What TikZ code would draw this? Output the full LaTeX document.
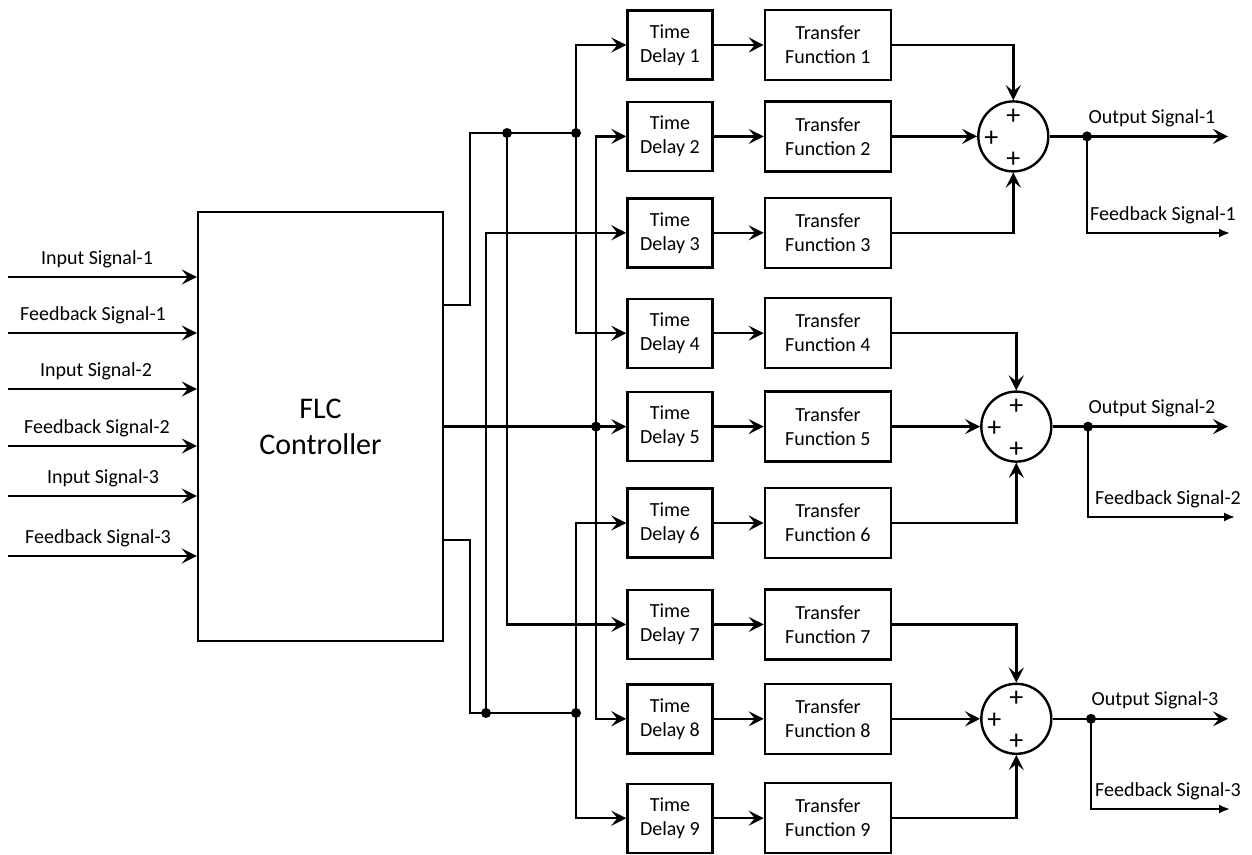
\documentclass[tikz,border=0pt]{standalone}
\usepackage{fontspec}
\setmainfont{Carlito}
\usepackage{tikz}
\usetikzlibrary{positioning, calc, arrows.meta}

\begin{document}
\begin{tikzpicture}[x=1pt, y=-1pt,
    font=\fontsize{20}{24}\selectfont,
    delay/.style={draw, line width=2.4pt, minimum width=85pt, minimum height=69pt, align=center, inner sep=2pt},
    transfer/.style={draw, line width=2.4pt, minimum width=126pt, minimum height=70pt, align=center, inner sep=2pt},
    summer/.style={draw, circle, line width=2.4pt, minimum size=70pt, inner sep=0pt},
    wire/.style={line width=2.4pt, -{Stealth[length=15pt,width=15pt,inset=6pt]}},
    bus/.style={line width=2.4pt},
    fb/.style={line width=2pt, -{Latex[length=11pt,width=9pt]}},
    dot/.style={circle, fill=black, inner sep=0pt, minimum size=10pt},
    lbl/.style={anchor=base, inner sep=0pt},
    plus/.style={inner sep=0pt, font=\fontsize{28}{28}\selectfont}]
    \useasboundingbox (0,0) rectangle (1252,854);

    % Controller
        \node[draw,
              line width=2.4pt,
              minimum width=245pt,
              minimum height=429pt,
              align=center,
              font=\fontsize{30}{36}\selectfont
              ] (flc) at (320.5,426.5) {FLC\\Controller};

    % Time delays
        \node[delay] (td1) at (670,45) {Time\\Delay 1};
		\node[delay,
			below=20pt of td1
			] (td2) {Time\\Delay 2};
		\node[delay,
			below=25pt of td2
			] (td3) {Time\\Delay 3};
		\node[delay,
			below=29pt of td3
			] (td4) {Time\\Delay 4};
		\node[delay,
			below=22pt of td4
			] (td5) {Time\\Delay 5};
		\node[delay,
			below=25pt of td5
			] (td6) {Time\\Delay 6};
		\node[delay,
			below=30pt of td6
			] (td7) {Time\\Delay 7};
		\node[delay,
			below=23pt of td7
			] (td8) {Time\\Delay 8};
		\node[delay,
			below=28pt of td8
			] (td9) {Time\\Delay 9};

    % Transfer functions
		\node[transfer, right=50pt of td1] (tf1) {Transfer\\Function 1};
		\node[transfer, right=50pt of td2] (tf2) {Transfer\\Function 2};
		\node[transfer, right=50pt of td3] (tf3) {Transfer\\Function 3};
		\node[transfer, right=50pt of td4] (tf4) {Transfer\\Function 4};
		\node[transfer, right=50pt of td5] (tf5) {Transfer\\Function 5};
		\node[transfer, right=50pt of td6] (tf6) {Transfer\\Function 6};
		\node[transfer, right=50pt of td7] (tf7) {Transfer\\Function 7};
		\node[transfer, right=50pt of td8] (tf8) {Transfer\\Function 8};
		\node[transfer, right=50pt of td9] (tf9) {Transfer\\Function 9};

    % Summing points
		\node[summer, right=85pt of tf2] (s1) {};
		\node[summer, right=88pt of tf5] (s2) {};
		\node[summer, right=88pt of tf8] (s3) {};
		\node[plus] (p1a) at ($(s1)+(0,-20)$) {+};
		\node[plus] (p1b) at ($(s1)+(-22,2)$) {+};
		\node[plus] (p1c) at ($(s1)+(0,23)$) {+};
		\node[plus] (p2a) at ($(s2)+(0,-20)$) {+};
		\node[plus] (p2b) at ($(s2)+(-22,2)$) {+};
		\node[plus] (p2c) at ($(s2)+(0,23)$) {+};
		\node[plus] (p3a) at ($(s3)+(0,-20)$) {+};
		\node[plus] (p3b) at ($(s3)+(-22,2)$) {+};
		\node[plus] (p3c) at ($(s3)+(0,23)$) {+};

    % Inputs
		\coordinate (i1) at (8,277);
		\coordinate (i2) at (8,333);
		\coordinate (i3) at (8,389);
		\coordinate (i4) at (8,446);
		\coordinate (i5) at (8,496);
		\coordinate (i6) at (8,556);
		\node[lbl] (li1) at (97,264) {Input Signal-1};
		\node[lbl] (li2) at (93,320) {Feedback Signal-1};
		\node[lbl] (li3) at (96,376) {Input Signal-2};
		\node[lbl] (li4) at (97,433) {Feedback Signal-2};
		\node[lbl] (li5) at (103,483) {Input Signal-3};
		\node[lbl] (li6) at (98,543) {Feedback Signal-3};
		\draw[wire] (i1) -- (i1 -| flc.west);
		\draw[wire] (i2) -- (i2 -| flc.west);
		\draw[wire] (i3) -- (i3 -| flc.west);
		\draw[wire] (i4) -- (i4 -| flc.west);
		\draw[wire] (i5) -- (i5 -| flc.west);
		\draw[wire] (i6) -- (i6 -| flc.west);

    % Controller outputs to the delays
		\coordinate (o1) at (444,305);
		\coordinate (a0) at (470,133);
		\coordinate (ja1) at (507,133);
		\coordinate (ja2) at (576,133);
		\coordinate (jb) at (596,0 |- td5);
		\coordinate (o3) at (444,540);
		\coordinate (c0) at (470,713);
		\coordinate (jc1) at (486,713);
		\coordinate (jc2) at (576,713);

		\draw[bus] (o1) -| (a0) -- (ja2);
		\draw[wire] (ja2) |- (td1);
		\draw[wire] (ja2) |- (td4);
		\draw[wire] (ja1) |- (td7);
		\draw[wire] (flc.east |- jb) -- (td5);
		\draw[wire] (jb) |- (td2);
		\draw[wire] (jb) |- (td8);
		\draw[bus] (o3) -| (c0) -- (jc2);
		\draw[wire] (jc1) |- (td3);
		\draw[wire] (jc2) |- (td6);
		\draw[wire] (jc2) |- (td9);
		\node[dot] (dja1) at (ja1) {};
		\node[dot] (dja2) at (ja2) {};
		\node[dot] (djb) at (jb) {};
		\node[dot] (djc1) at (jc1) {};
		\node[dot] (djc2) at (jc2) {};

    % Delays to transfer functions to summing points
		\draw[wire]
			(td1) edge (tf1)
			(td2) edge (tf2)
			(td3) edge (tf3)
			(td4) edge (tf4)
			(td5) edge (tf5)
			(td6) edge (tf6)
			(td7) edge (tf7)
			(td8) edge (tf8)
			(td9) edge (tf9);
		\draw[wire] (tf1) -| (s1);
		\draw[wire] (tf2) -- (s1);
		\draw[wire] (tf3) -| (s1);
		\draw[wire] (tf4) -| (s2);
		\draw[wire] (tf5) -- (s2);
		\draw[wire] (tf6) -| (s2);
		\draw[wire] (tf7) -| (s3);
		\draw[wire] (tf8) -- (s3);
		\draw[wire] (tf9) -| (s3);

    % Outputs and feedback
		\coordinate (jo1) at (1087,0 |- s1);
		\coordinate (jo2) at (1088,0 |- s2);
		\coordinate (jo3) at (1091,0 |- s3);
		\coordinate (e1) at (1228,0 |- s1);
		\coordinate (e2) at (1228,0 |- s2);
		\coordinate (e3) at (1228,0 |- s3);
		\coordinate (f1) at (1230,233);
		\coordinate (f2) at (1235,517);
		\coordinate (f3) at (1230,809);
		\draw[wire] (s1) -- (e1);
		\draw[wire] (s2) -- (e2);
		\draw[wire] (s3) -- (e3);
		\draw[fb] (jo1) |- (f1);
		\draw[fb] (jo2) |- (f2);
		\draw[fb] (jo3) |- (f3);
		\node[dot] (djo1) at (jo1) {};
		\node[dot] (djo2) at (jo2) {};
		\node[dot] (djo3) at (jo3) {};
		\node[lbl] (lo1) at ($(jo1)+(65,-13)$) {Output Signal-1};
		\node[lbl] (lo2) at ($(jo2)+(64,-13)$) {Output Signal-2};
		\node[lbl] (lo3) at ($(jo3)+(64,-13)$) {Output Signal-3};
		\node[lbl] (lf1) at (1163,220) {Feedback Signal-1};
		\node[lbl] (lf2) at (1168,504) {Feedback Signal-2};
		\node[lbl] (lf3) at (1168,796) {Feedback Signal-3};
    \end{tikzpicture}
\end{document}
